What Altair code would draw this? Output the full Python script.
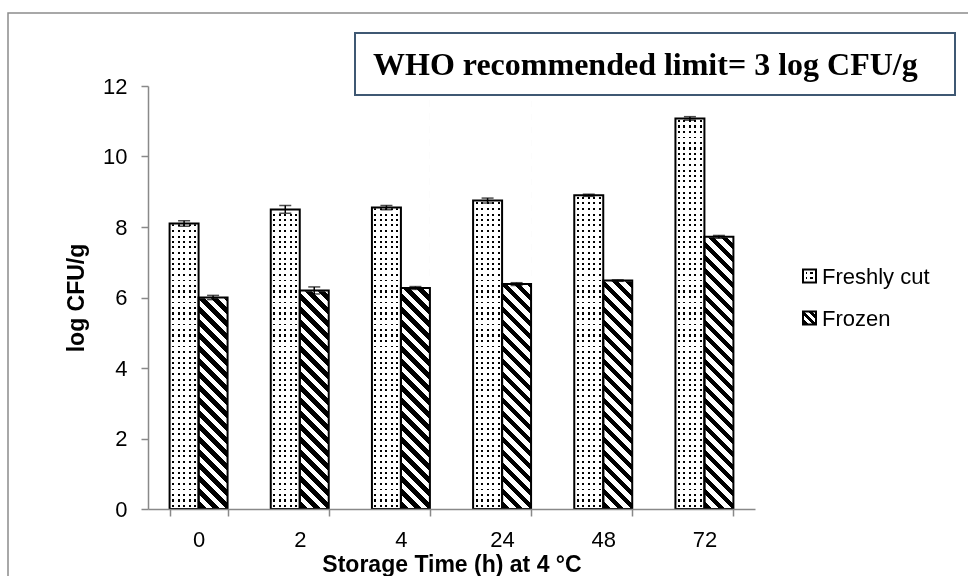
import altair as alt
import pandas as pd

# ---- data -------------------------------------------------------------
TIMES = ["0", "2", "4", "24", "48", "72"]
SERIES = ["Freshly cut", "Frozen"]
FRESH = [8.10, 8.50, 8.55, 8.75, 8.90, 11.08]
FRESH_ERR = [0.08, 0.11, 0.06, 0.07, 0.03, 0.05]
FROZEN = [6.00, 6.20, 6.27, 6.38, 6.48, 7.72]
FROZEN_ERR = [0.06, 0.10, 0.04, 0.04, 0.02, 0.04]
Y_TICKS = [0, 2, 4, 6, 8, 10, 12]
Y_MAX = 12
NOTE = "WHO recommended limit= 3 log CFU/g"
X_TITLE = "Storage Time (h) at 4 °C"
Y_TITLE = "log CFU/g"

rows = []
for series, vals, errs in [(SERIES[0], FRESH, FRESH_ERR), (SERIES[1], FROZEN, FROZEN_ERR)]:
    for t, v, e in zip(TIMES, vals, errs):
        rows.append({"time": t, "series": series, "value": v,
                     "lo": v - e, "hi": v + e, "top": Y_MAX})
df = pd.DataFrame(rows)

# ---- geometry / style --------------------------------------------------
PLOT_W, PLOT_H = 607, 423
PAD_L, PAD_T = 148, 86
PAD_INNER = 0.427
STEP = PLOT_W / len(TIMES)
BAR_W = STEP * (1 - PAD_INNER) / 2
AXIS_GREY = "#898989"
FONT = "Liberation Sans"


def stripe_stops(length, period, dark, phase=0.0):
    """Hard-edged black/white stops along a gradient of `length` pixels."""
    stops = [{"offset": 0, "color": "#ffffff"}]
    pos = phase
    while pos < length:
        a = round(pos / length, 5)
        b = round(min(pos + dark, length) / length, 5)
        stops += [{"offset": a, "color": "#ffffff"}, {"offset": a, "color": "#000000"},
                  {"offset": b, "color": "#000000"}, {"offset": b, "color": "#ffffff"}]
        pos += period
    stops.append({"offset": 1, "color": "#ffffff"})
    return stops


def hstripe_fill(w, period, dark, phase):
    # vertical lines spaced along x
    return {"gradient": "linear", "x1": 0, "y1": 0, "x2": 1, "y2": 0,
            "stops": stripe_stops(w, period, dark, phase)}


def vstripe_fill(h, period, dark, phase):
    # horizontal lines spaced along y
    return {"gradient": "linear", "x1": 0, "y1": 0, "x2": 0, "y2": 1,
            "stops": stripe_stops(h, period, dark, phase)}


def diag_fill(w, h, period, dark):
    # "\" hatching at 45 degrees in pixel space for a w x h box
    k = (w + h) / (w * w + h * h)
    return {"gradient": "linear", "x1": 0, "y1": 1,
            "x2": round(k * w, 6), "y2": round(1 - k * h, 6),
            "stops": stripe_stops(w + h, period, dark, 2.0)}


x_scale = alt.Scale(domain=TIMES, paddingInner=PAD_INNER, paddingOuter=PAD_INNER / 2)
off_scale = alt.Scale(domain=SERIES, paddingInner=0, paddingOuter=0)
y_scale = alt.Scale(domain=[0, Y_MAX], nice=False, zero=True)

x_axis = alt.Axis(
    title=X_TITLE, labelAngle=0, labelFont=FONT, labelFontSize=22, labelColor="black",
    labelPadding=13, tickBand="extent", tickSize=7, tickWidth=1.5, tickColor=AXIS_GREY,
    domainColor=AXIS_GREY, domainWidth=1.5, grid=False, zindex=2,
    titleFont=FONT, titleFontSize=23, titleFontWeight="bold", titleColor="black",
    titleY=62, titleBaseline="alphabetic",
)
y_axis = alt.Axis(
    title=Y_TITLE, values=Y_TICKS, labelFont=FONT, labelFontSize=22, labelColor="black",
    labelPadding=14, tickSize=7, tickWidth=1.5, tickColor=AXIS_GREY,
    domainColor=AXIS_GREY, domainWidth=1.5, grid=False, zindex=2,
    titleFont=FONT, titleFontSize=23, titleFontWeight="bold", titleColor="black",
    titleX=-72, titleY=PLOT_H / 2, titleAngle=270, titleBaseline="middle", titleAlign="center",
)

X = alt.X("time:N", scale=x_scale, axis=x_axis)
XO = alt.XOffset("series:N", scale=off_scale)


def Y(field):
    return alt.Y(field, scale=y_scale, axis=y_axis)


base = alt.Chart(df)
fresh = base.transform_filter(alt.datum.series == SERIES[0])
frozen = base.transform_filter(alt.datum.series == SERIES[1])
one = alt.Chart(pd.DataFrame({"k": [0]}))

# outer frame of the figure
frame = one.mark_rect(fill="transparent", stroke="#8c8c8c", strokeWidth=1.5).encode(
    x=alt.value(8 - PAD_L), x2=alt.value(1100), y=alt.value(13 - PAD_T), y2=alt.value(700))

# dotted fill = vertical lines "lightened" by horizontal lines
dots_a = fresh.mark_bar(fill=hstripe_fill(BAR_W, 5.5, 2, 2.5), strokeWidth=0).encode(
    x=X, xOffset=XO, y=Y("top:Q"))
dots_b = fresh.mark_bar(fill=vstripe_fill(PLOT_H, 5.5, 2, 1.0), strokeWidth=0, blend="lighten").encode(
    x=X, xOffset=XO, y=Y("top:Q"))
hatch = frozen.mark_bar(fill=diag_fill(BAR_W, PLOT_H, 13, 6.5), strokeWidth=0).encode(
    x=X, xOffset=XO, y=Y("top:Q"))
# blank out the pattern above each bar's value
cover = base.mark_bar(fill="white", stroke="white", strokeWidth=1.5).encode(
    x=X, xOffset=XO, y=Y("value:Q"), y2="top:Q")
outline = base.mark_bar(fill="transparent", stroke="black", strokeWidth=2).encode(
    x=X, xOffset=XO, y=Y("value:Q"))

err_line = base.mark_rule(color="black", strokeWidth=1.5).encode(
    x=X, xOffset=XO, y=Y("lo:Q"), y2="hi:Q")
cap_lo = base.mark_tick(color="black", orient="horizontal", size=12, thickness=1.5).encode(
    x=X, xOffset=XO, y=Y("lo:Q"))
cap_hi = base.mark_tick(color="black", orient="horizontal", size=12, thickness=1.5).encode(
    x=X, xOffset=XO, y=Y("hi:Q"))

# note box
BOX_X0, BOX_X1, BOX_Y0, BOX_Y1 = 355 - PAD_L, 955 - PAD_L, 33 - PAD_T, 95 - PAD_T
note_box = one.mark_rect(fill="white", stroke="#3f5873", strokeWidth=2).encode(
    x=alt.value(BOX_X0), x2=alt.value(BOX_X1), y=alt.value(BOX_Y0), y2=alt.value(BOX_Y1))
note_text = one.mark_text(
    text=NOTE, font="Liberation Serif", fontSize=32, fontWeight="bold", color="black",
    align="left", baseline="middle").encode(
    x=alt.value(373 - PAD_L), y=alt.value((BOX_Y0 + BOX_Y1) / 2 + 1))

# legend
LEG_X, LEG_Y, LEG_GAP, ICON = 803 - PAD_L, 276 - PAD_T, 42, 13
legend_layers = []
for i, name in enumerate(SERIES):
    cy = LEG_Y + i * LEG_GAP
    pos = dict(x=alt.value(LEG_X), x2=alt.value(LEG_X + ICON),
               y=alt.value(cy - ICON / 2), y2=alt.value(cy + ICON / 2))
    if i == 0:
        legend_layers.append(one.mark_rect(fill=hstripe_fill(ICON, 5, 2, 2.5)).encode(**pos))
        legend_layers.append(one.mark_rect(fill=vstripe_fill(ICON, 5, 2, 2.5), blend="lighten").encode(**pos))
    else:
        legend_layers.append(one.mark_rect(fill=diag_fill(ICON, ICON, 8, 4)).encode(**pos))
    legend_layers.append(one.mark_rect(fill="transparent", stroke="black", strokeWidth=2).encode(**pos))
    legend_layers.append(one.mark_text(
        text=name, font=FONT, fontSize=22, color="black", align="left", baseline="middle").encode(
        x=alt.value(LEG_X + ICON + 6), y=alt.value(cy + 1)))

chart = alt.layer(
    frame, dots_a, dots_b, hatch, cover, outline, err_line, cap_lo, cap_hi,
    note_box, note_text, *legend_layers,
).properties(
    width=PLOT_W, height=PLOT_H,
    padding={"left": PAD_L, "top": PAD_T, "right": 968 - PAD_L - PLOT_W, "bottom": 576 - PAD_T - PLOT_H},
    autosize=alt.AutoSizeParams(type="none"),
    background="white",
).configure_view(stroke=None)

chart.save("out.html", embed_options={"renderer": "svg", "actions": False})
